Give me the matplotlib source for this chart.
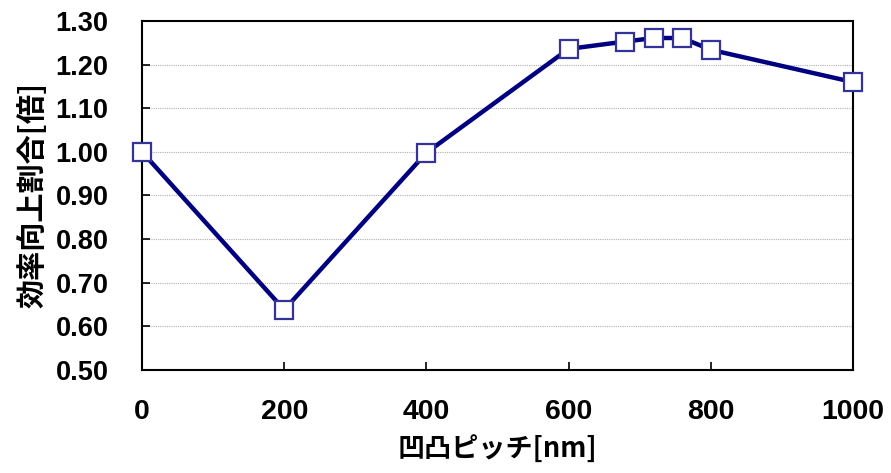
import matplotlib
matplotlib.use("Agg")
import matplotlib.pyplot as plt
from matplotlib.ticker import FormatStrFormatter

plt.rcParams['font.family'] = ['Liberation Sans', 'Noto Sans CJK JP', 'DejaVu Sans']

pitch_nm = [0, 200, 400, 600, 680, 720, 760, 800, 1000]
ratio = [1.00, 0.638, 0.998, 1.236, 1.253, 1.261, 1.261, 1.234, 1.160]
x_ticks = [0, 200, 400, 600, 800, 1000]
y_ticks = [0.50, 0.60, 0.70, 0.80, 0.90, 1.00, 1.10, 1.20, 1.30]

fig = plt.figure(figsize=(8.91, 4.73), dpi=100)
ax = fig.add_axes([0.1594, 0.2178, 0.7979, 0.7378])

ax.plot(pitch_nm, ratio, color="#000080", linewidth=3.2, marker="s",
        markersize=13, markerfacecolor="white", markeredgecolor="#333399",
        markeredgewidth=1.6, clip_on=False, zorder=3)

ax.set_xlim(0, 1000)
ax.set_ylim(0.5, 1.3)
ax.set_xticks(x_ticks)
ax.set_yticks(y_ticks)
ax.yaxis.set_major_formatter(FormatStrFormatter("%.2f"))
ax.grid(axis="y", color="#b0b0b0", linestyle=(0, (1, 1)), linewidth=0.8)
ax.set_axisbelow(True)

for s in ax.spines.values():
    s.set_linewidth(1.5)
ax.tick_params(direction="in", length=6, width=1.2)
ax.tick_params(axis="x", pad=21, labelsize=20.5)
ax.tick_params(axis="y", pad=24, labelsize=19.5)
for lab in ax.get_xticklabels() + ax.get_yticklabels():
    lab.set_fontweight("bold")

ax.set_xlabel("凹凸ピッチ[nm]", fontsize=19.5, fontweight="bold",
              family=['Noto Sans CJK JP', 'DejaVu Sans'], labelpad=8)
ax.set_ylabel("効率向上割合[倍]", fontsize=21, fontweight="bold",
              family=['Noto Sans CJK JP', 'DejaVu Sans'], labelpad=6)

fig.savefig("out.png", dpi=100)
